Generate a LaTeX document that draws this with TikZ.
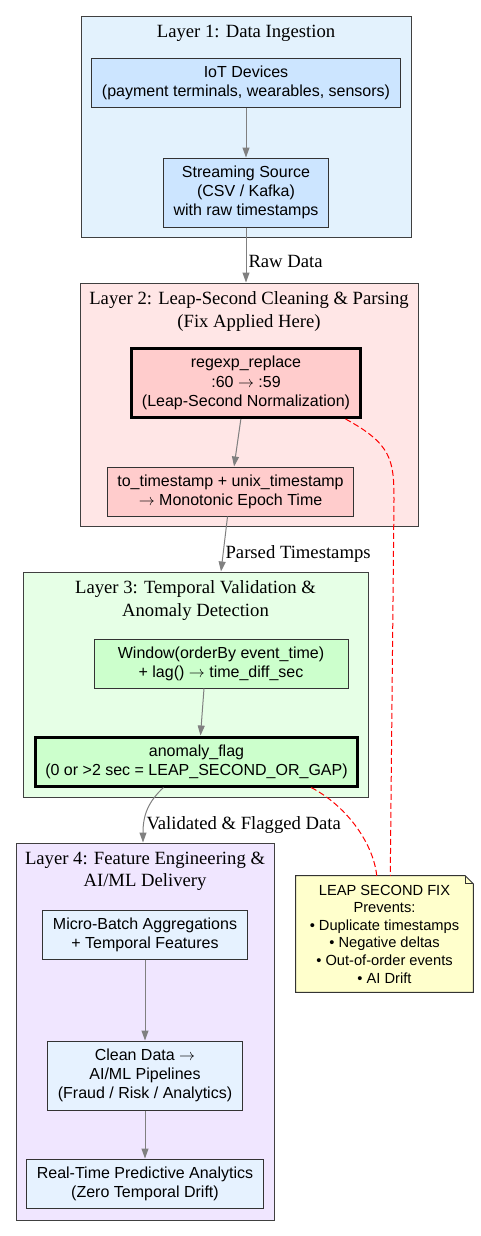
\documentclass[tikz,border=0pt]{standalone}
\usepackage{fontspec}
\setmainfont{Liberation Serif}
\setsansfont{Liberation Sans}
\usetikzlibrary{arrows.meta,calc}
\definecolor{lineone}{HTML}{404040}
\definecolor{edgegray}{HTML}{808080}
\definecolor{fillone}{HTML}{E3F2FD}
\definecolor{boxone}{HTML}{CCE5FF}
\definecolor{filltwo}{HTML}{FFE6E6}
\definecolor{boxtwo}{HTML}{FFCCCC}
\definecolor{fillthree}{HTML}{E6FFE6}
\definecolor{boxthree}{HTML}{CCFFCC}
\definecolor{fillfour}{HTML}{F0E6FF}
\definecolor{boxfour}{HTML}{E6F2FF}
\definecolor{notefill}{HTML}{FFFFCC}
\newcommand{\toarrow}{$\rightarrow$}

\begin{document}
\begin{tikzpicture}[x=0.75pt, y=-0.75pt,
    layer/.style={draw=lineone, line width=0.75pt, inner sep=0pt},
    title/.style={anchor=north, inner sep=0pt, align=center, font=\fontsize{14}{16.8}\selectfont},
    box/.style={draw=black!80, line width=0.75pt, align=center, inner xsep=7.5pt,
        font=\sffamily\fontsize{12}{14.4}\selectfont, minimum height=36.75pt},
    tall/.style={minimum height=51.75pt},
    heavy/.style={draw=black, line width=2.25pt},
    flow/.style={draw=edgegray, line width=0.75pt, -{Triangle[length=7.5pt,width=5.25pt]}},
    tag/.style={font=\fontsize{14}{16.8}\selectfont, inner sep=1.5pt, anchor=west},
    fix/.style={draw=red, line width=0.75pt, dash pattern=on 4.5pt off 2.25pt}]
    \useasboundingbox (0,0) rectangle (480,1236);

    % layers
    \node[layer, fill=fillone, minimum width=247.5pt, minimum height=165.75pt] (L1) at (246,126.5) {};
    \node[layer, fill=filltwo, minimum width=253.5pt, minimum height=182.25pt] (L2) at (249,404.5) {};
    \node[layer, fill=fillthree, minimum width=258.75pt, minimum height=168.75pt] (L3) at (195.5,684.5) {};
    \node[layer, fill=fillfour, minimum width=193.5pt, minimum height=282.75pt] (L4) at (145,1031.5) {};
    \node[title] (t1) at ($(L1.north)+(0,9)$) {Layer 1: Data Ingestion};
    \node[title] (t2) at ($(L2.north)+(0,9)$) {Layer 2: Leap-Second Cleaning \& Parsing\\(Fix Applied Here)};
    \node[title] (t3) at ($(L3.north)+(0,9)$) {Layer 3: Temporal Validation \&\\Anomaly Detection};
    \node[title] (t4) at ($(L4.north)+(0,9)$) {Layer 4: Feature Engineering \&\\AI/ML Delivery};

    % nodes
    \node[box, fill=boxone] (iot) at (246,83) {IoT Devices\\(payment terminals, wearables, sensors)};
    \node[box, tall, fill=boxone] (stream) at (246,192.5) {Streaming Source\\(CSV / Kafka)\\with raw timestamps};
    \node[box, tall, heavy, fill=boxtwo] (regexp) at (246,383) {regexp\_replace\\:60 \toarrow{} :59\\(Leap-Second Normalization)};
    \node[box, fill=boxtwo] (tots) at (230.5,491.5) {to\_timestamp + unix\_timestamp\\\toarrow{} Monotonic Epoch Time};
    \node[box, fill=boxthree, minimum width=190.5pt] (win) at (221,663.5) {Window(orderBy event\_time)\\+ lag() \toarrow{} time\_diff\_sec};
    \node[box, heavy, fill=boxthree] (anom) at (196.5,761.5) {anomaly\_flag\\(0 or >2 sec = LEAP\_SECOND\_OR\_GAP)};
    \node[box, fill=boxfour] (micro) at (145,934.5) {Micro-Batch Aggregations\\+ Temporal Features};
    \node[box, tall, fill=boxfour] (clean) at (145,1075.5) {Clean Data \toarrow\\AI/ML Pipelines\\(Fraud / Risk / Analytics)};
    \node[box, fill=boxfour] (real) at (145,1183.5) {Real-Time Predictive Analytics\\(Zero Temporal Drift)};

    % note
    \node[align=center, minimum width=132.75pt, minimum height=87pt, inner sep=0pt,
        font=\sffamily\fontsize{11}{13.2}\selectfont] (note) at (384.5,934) {};
    \draw[draw=black!80, line width=0.75pt, fill=notefill] (note.north west) -- ($(note.north east)+(-8,0)$)
        -- ($(note.north east)+(0,8)$) -- (note.south east) -- (note.south west) -- cycle;
    \draw[draw=black!80, line width=0.75pt] ($(note.north east)+(-8,0)$) -- ($(note.north east)+(-8,8)$)
        -- ($(note.north east)+(0,8)$);
    \node[align=center, inner sep=0pt, font=\sffamily\fontsize{11}{13.2}\selectfont] (notetext) at (note.center)
        {LEAP SECOND FIX\\Prevents:\\• Duplicate timestamps\\• Negative deltas\\• Out-of-order events\\• AI Drift};

    % flow
    \draw[flow] (iot) -- (stream);
    \draw[flow] (stream.south) -- (stream |- L2.north) node[tag, pos=0.62] {Raw Data};
    \draw[flow] (regexp) -- (tots);
    \draw[flow] (tots) -- (win |- L3.north) node[tag, pos=0.68] {Parsed Timestamps};
    \draw[flow] ($(win.south)+(-17,0)$) -- ($(anom.north)+(4,0)$);
    \draw[flow] ($(anom.south)+(-33,0)$) .. controls ($(anom.south)+(-48,14)$) and ($(L4.north)+(-2,-28)$)
        .. ($(L4.north)+(-2,0)$) node[tag, pos=0.76] {Validated \& Flagged Data};
    \draw[flow] (micro) -- (clean);
    \draw[flow] (clean) -- (real);

    % leap second fix
    \draw[fix] ($(regexp.south east)+(-16,0)$) .. controls ($(regexp.south east)+(30,25)$) and (394,460)
        .. (394,500) -- ($(note.north east)+(-83,0)$);
    \draw[fix] ($(anom.south east)+(-48,0)$) .. controls ($(anom.south east)+(-10,20)$) and ($(note.north west)+(78,-30)$)
        .. ($(note.north west)+(81,0)$);
\end{tikzpicture}
\end{document}
